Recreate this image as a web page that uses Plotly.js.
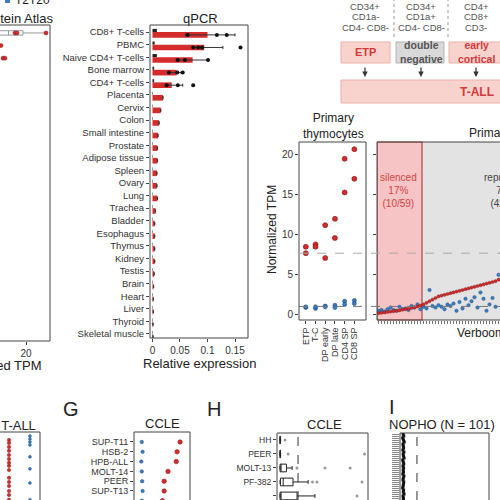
<!DOCTYPE html>
<html><head><meta charset="utf-8">
<script src="https://cdn.plot.ly/plotly-3.0.1.min.js"></script>
<style>html,body{margin:0;padding:0;background:#fff}#chart{width:500px;height:500px}</style>
</head><body><div id="chart"></div>
<script>
// ---------------- data ----------------
const tissues = ['CD8+ T-cells','PBMC','Naive CD4+ T-cells','Bone marrow','CD4+ T-cells','Placenta','Cervix','Colon','Small intestine','Prostate','Adipose tissue','Spleen','Ovary','Lung','Trachea','Bladder','Esophagus','Thymus','Kidney','Testis','Brain','Heart','Liver','Thyroid','Skeletal muscle'];
const qpcrRed = [0.100,0.094,0.073,0.044,0.035,0.019,0.015,0.012,0.010,0.009,0.009,0.008,0.008,0.009,0.0055,0.004,0.004,0.004,0.004,0.003,0.002,0.0015,0.0015,0.001,0.001];
const qpcrDark = [0.008,0.004,0.008,0.003,0.003,0.0008,0.0008,0.0008,0.0008,0.0008,0.0008,0.0008,0.0008,0.0008,0.0008,0.0008,0.0008,0.0008,0.0008,0.0008,0.0008,0.0008,0.0008,0.0008,0.0008];
const qpcrErrPlus = [0.050,0.034,0.028,0.008,0.020,0,0,0,0,0,0,0,0,0,0,0,0,0,0,0,0,0,0,0,0];
const qpcrErrMinus = [0.040,0.020,0.030,0.015,0.012,0,0,0,0,0,0,0,0,0,0,0,0,0,0,0,0,0,0,0,0];
const qpcrPtIdx = [0,0,0,1,1,1,1,2,2,2,3,3,3,4,4,4];
const qpcrPtVal = [0.064,0.117,0.135,0.074,0.083,0.090,0.160,0.046,0.059,0.101,0.030,0.045,0.055,0.026,0.046,0.074];

const paRows = [0,0,0,1,2,2];
const paVals = [15.6,16.4,28.0,10.0,10.8,11.6];
const paBoxQ1 = [9.0], paBoxMed = [13.0], paBoxQ3 = [18.8], paBoxLo = [5.0], paBoxHi = [27.6];

const thyCats = ['ETP','T-C','DP early','DP late','CD4 SP','CD8 SP'];
const thyRedA = [8.4,8.7,11.1,11.9,19.4,20.6];
const thyRedB = [7.6,8.4,7.0,9.5,15.2,16.9];
const thyBlueA = [0.8,0.7,1.0,1.1,1.6,1.7];
const thyBlueB = [0.9,0.9,0.9,0.8,1.2,1.3];

const verboomRed = [0.10,0.15,0.20,0.25,0.30,0.35,0.40,0.45,0.55,0.60,0.65,0.75,0.85,0.95,1.05,
  1.2,1.4,1.6,1.8,2.0,2.2,2.3,2.4,2.5,2.6,2.7,2.8,2.9,3.0,3.1,3.2,3.3,3.4,3.5,3.6,3.7,3.8,3.9,4.0,4.1,4.3];
const verboomBlue = [0.4,0.5,0.3,0.6,0.8,0.5,0.4,0.9,0.6,0.7,0.5,1.0,0.8,1.2,0.6,
  0.9,0.7,3.0,1.0,0.8,1.1,0.9,0.6,1.2,1.0,1.3,0.4,1.5,0.7,1.9,1.1,1.6,2.1,0.8,2.7,1.9,0.4,1.2,2.0,0.9,4.9];
const thresholdHigh = 7.6, thresholdLow = 0.95;

const fRed = [27.3,26.3,25.0,23.7,22.3,21.0,19.7,18.7,17.3,14.7,13.3,12.0,10.3,9.0,7.4];
const fBlue = [28.7,27.7,26.7,25.7,21.7,17.7,13.0,7.4];

const gLines = ['SUP-T11','HSB-2','HPB-ALL','MOLT-14','PEER','SUP-T13','MOLT-13'];
const gRed = [4.85,4.5,4.4,3.45,3.0,3.0,2.8];
const gBlue = [0.4,0.5,0.35,0.4,0.45,0.5,0.4];

const hLines = ['HH','PEER','MOLT-13','PF-382','MOLT-3'];
const hHH = [0,0,0,0,0,0,0,0,0.01,0.01,0.02,0.03,0.28];
const hPEER = [0,0,0,0,0,0,0,0,0.01,0.02,0.03,0.45,4.7];
const hMOLT13 = [0,0,0,0,0,0,0,0,0.01,0.02,0.03,0.04,0.67,0.94,2.5,3.9];
const hPF382 = [0,0,0,0,0.02,0.05,0.08,0.1,0.15,0.2,0.28,0.3,0.5,0.72,1.56,1.8,2.05,4.56];
const hMOLT3 = [0,0,0,0,0,0,0,0.01,0.02,0.03,0.04,0.39,1.5,1.67,1.94,4.28];

const nophoVals = [0.08,0.12,0.05,0.10,0.15,0.07,0.09,0.11,0.06,0.13,
 0.08,0.10,0.14,0.05,0.09,0.12,0.07,0.11,0.08,0.10,
 0.06,0.13,0.09,0.07,0.12,0.10,0.08,0.05,0.11,0.09,
 0.14,0.07,0.10,0.08,0.12,0.06,0.09,0.11,0.13,0.08,
 0.10,0.07,0.12,0.09,0.05,0.11,0.08,0.14,0.10,0.06,
 0.09,0.12,0.07,0.10,0.13,0.08,0.11,0.09,0.06,0.12,
 0.10,0.08,0.14,0.07,0.09,0.11,0.05,0.10,0.12,0.08,
 0.13,0.09,0.07,0.11,0.10,0.06,0.12,0.08,0.09,0.14,
 0.07,0.10,0.11,0.08,0.12,0.05,0.09,0.13,0.10,0.07,
 0.11,0.08,0.12,0.09,0.06,0.10,0.14,0.08,0.11,0.09,0.07];

const stageMarkers = [['CD34+','CD1a-','CD4- CD8-'],['CD34+','CD1a+','CD4- CD8-'],['CD4+','CD8+','CD3-']];
const stageNames = ['ETP','double<br>negative','early<br>cortical'];

// ---------------- helpers ----------------
const FONT = 'Liberation Sans, Arial, sans-serif';
const X = p => p/500, Y = p => 1 - p/500;
const RED = '#d42b2b', REDL = '#7a1616', BLUE = '#3a7dbf', BLUEL = '#1d4d80';
const idx = a => a.map((_, i) => i);

const traces = [];
// Protein Atlas (cut panel)
traces.push({type:'box', orientation:'h', y:[0], q1:paBoxQ1, median:paBoxMed, q3:paBoxQ3, lowerfence:paBoxLo, upperfence:paBoxHi,
  xaxis:'x', yaxis:'y', width:0.35, fillcolor:'#fff', line:{color:'#999', width:1}, boxpoints:false, hoverinfo:'skip'});
traces.push({type:'scatter', mode:'markers', x:paVals, y:paRows, xaxis:'x', yaxis:'y',
  marker:{color:RED, size:4, line:{color:REDL, width:0.5}}});
// qPCR
traces.push({type:'bar', orientation:'h', x:qpcrDark, y:idx(tissues), xaxis:'x2', yaxis:'y2',
  width:0.25, offset:-0.25, marker:{color:'#222'}});
traces.push({type:'bar', orientation:'h', x:qpcrRed, y:idx(tissues), xaxis:'x2', yaxis:'y2',
  width:0.45, offset:0, marker:{color:RED},
  error_x:{type:'data', array:qpcrErrPlus, arrayminus:qpcrErrMinus, visible:true, color:'#333', thickness:1, width:1.5}});
traces.push({type:'scatter', mode:'markers', x:qpcrPtVal, y:qpcrPtIdx.map(i => i + 0.225), xaxis:'x2', yaxis:'y2',
  marker:{color:'#111', size:4}});
// Primary thymocytes
[[thyRedA,RED,REDL,5],[thyRedB,RED,REDL,5],[thyBlueA,BLUE,BLUEL,4],[thyBlueB,BLUE,BLUEL,4]].forEach(([v,c,l,s]) => {
  traces.push({type:'scatter', mode:'markers', x:thyCats, y:v, xaxis:'x3', yaxis:'y3',
    marker:{color:c, size:s, line:{color:l, width:0.6}}});
});
// Verboom
traces.push({type:'scatter', mode:'markers', x:idx(verboomBlue).map(i=>i+1), y:verboomBlue, xaxis:'x4', yaxis:'y4',
  marker:{color:BLUE, size:3.5, line:{color:BLUEL, width:0.4}}});
traces.push({type:'scatter', mode:'markers', x:idx(verboomRed).map(i=>i+1), y:verboomRed, xaxis:'x4', yaxis:'y4',
  marker:{color:RED, size:3.2, line:{color:REDL, width:0.4}}});
// F: primary T-ALL (cut)
traces.push({type:'scatter', mode:'markers', x:fRed.map(()=>0), y:fRed, xaxis:'x5', yaxis:'y5',
  marker:{color:RED, size:3.5, line:{color:REDL, width:0.4}}});
traces.push({type:'scatter', mode:'markers', x:fBlue.map(()=>1), y:fBlue, xaxis:'x5', yaxis:'y5',
  marker:{color:BLUE, size:3, line:{color:BLUEL, width:0.4}}});
// G: CCLE
traces.push({type:'scatter', mode:'markers', x:gBlue, y:idx(gLines), xaxis:'x6', yaxis:'y6',
  marker:{color:BLUE, size:3.5, line:{color:BLUEL, width:0.5}}});
traces.push({type:'scatter', mode:'markers', x:gRed, y:idx(gLines), xaxis:'x6', yaxis:'y6',
  marker:{color:RED, size:4.5, line:{color:REDL, width:0.5}}});
// H: CCLE boxes
[hHH,hPEER,hMOLT13,hPF382,hMOLT3].forEach((vals, i) => {
  traces.push({type:'box', orientation:'h', x:vals, y:vals.map(()=>i), xaxis:'x7', yaxis:'y7',
    width:0.55, boxpoints:'outliers', fillcolor:'rgba(0,0,0,0)', line:{color:'#222', width:1},
    marker:{color:'#999', size:3}});
});
// I: NOPHO
traces.push({type:'scatter', mode:'markers', x:nophoVals, y:idx(nophoVals), xaxis:'x8', yaxis:'y8',
  marker:{color:'#111', size:3, symbol:'square'}});

// ---------------- layout ----------------
const base = {showgrid:false, zeroline:false, showline:false, tickfont:{size:10, color:'#333'}, tickcolor:'#444', ticklen:3};
const dom = {
  pa:[[0,X(50)],[Y(341),Y(25)]],
  q:[[X(150),X(248)],[Y(338),Y(25)]],
  thy:[[X(299),X(366)],[Y(320),Y(142)]],
  vb:[[X(377),1],[Y(320),Y(142)]],
  f:[[0,X(40)],[0,Y(432)]],
  g:[[X(134),X(190)],[0,Y(432)]],
  h:[[X(277),X(368)],[0,Y(433)]],
  i:[[X(400),X(489)],[0,Y(433)]]
};
const layout = {
  width:500, height:500, margin:{l:0,r:0,t:0,b:0}, showlegend:false,
  paper_bgcolor:'#fff', plot_bgcolor:'rgba(0,0,0,0)', font:{family:FONT, size:10, color:'#333'},
  xaxis:{...base, domain:dom.pa[0], anchor:'y', range:[9.6,29.6], tickvals:[20], ticks:'outside'},
  yaxis:{...base, domain:dom.pa[1], anchor:'x', range:[24.45,-0.63], showticklabels:false},
  xaxis2:{...base, domain:dom.q[0], anchor:'y2', range:[-0.0045,0.1736], tickvals:[0,0.05,0.1,0.15], ticktext:['0','0.05','0.1','0.15'], ticks:'outside'},
  yaxis2:{...base, domain:dom.q[1], anchor:'x2', range:[24.32,-0.56], tickvals:idx(tissues), ticktext:tissues, ticks:'outside', tickfont:{size:9.5, color:'#333'}},
  xaxis3:{...base, domain:dom.thy[0], anchor:'y3', type:'category', categoryarray:thyCats, range:[-0.7,6.2], tickmode:'array', tickvals:thyCats, ticktext:thyCats, ticks:'outside', tickangle:-90, tickfont:{size:9, color:'#333'}},
  yaxis3:{...base, domain:dom.thy[1], anchor:'x3', range:[-0.75,21.5], tickvals:[0,5,10,15,20], ticks:'outside'},
  xaxis4:{...base, domain:dom.vb[0], anchor:'y4', range:[0.5,41.5], tick0:1, dtick:1, ticks:'outside', showticklabels:false, tickcolor:'#777'},
  yaxis4:{...base, domain:dom.vb[1], anchor:'x4', range:[-0.75,21.5], tickvals:[0,5,10,15,20], ticks:'outside', showticklabels:false},
  xaxis5:{...base, domain:dom.f[0], anchor:'y5', range:[-0.43,1.48], showticklabels:false},
  yaxis5:{...base, domain:dom.f[1], anchor:'x5', range:[7.3,30], showticklabels:false},
  xaxis6:{...base, domain:dom.g[0], anchor:'y6', range:[-0.5,6], showticklabels:false},
  yaxis6:{...base, domain:dom.g[1], anchor:'x6', range:[5.92,-1.02], tickvals:idx(gLines), ticktext:gLines, ticks:'outside', tickfont:{size:9, color:'#333'}},
  xaxis7:{...base, domain:dom.h[0], anchor:'y7', range:[-0.17,4.89], showticklabels:false},
  yaxis7:{...base, domain:dom.h[1], anchor:'x7', range:[4.29,-0.5], tickvals:idx(hLines), ticktext:hLines, ticks:'outside', tickfont:{size:8.5, color:'#333'}},
  xaxis8:{...base, domain:dom.i[0], anchor:'y8', range:[-0.13,5.8], showticklabels:false},
  yaxis8:{...base, domain:dom.i[1], anchor:'x8', range:[33,-0.5], tickvals:idx(nophoVals), ticks:'outside', ticklen:7, tickcolor:'#888', showticklabels:false},
  shapes:[], annotations:[]
};
const S = layout.shapes, A = layout.annotations;
const frame = (xd, yd, ext) => S.push({type:'rect', xref:'paper', yref:'paper',
  x0: ext.l ? -0.05 : xd[0], x1: ext.r ? 1.05 : xd[1], y0: ext.b ? -0.05 : yd[0], y1: yd[1],
  line:{color:'#444', width:1}, fillcolor:'rgba(0,0,0,0)'});
// Verboom backgrounds
S.push({type:'rect', xref:'x4', yref:'paper', x0:15.5, x1:80, y0:dom.vb[1][0], y1:dom.vb[1][1], fillcolor:'#e3e3e3', line:{width:0}, layer:'below'});
S.push({type:'rect', xref:'x4', yref:'paper', x0:0.5, x1:15.5, y0:dom.vb[1][0], y1:dom.vb[1][1], fillcolor:'#f6c4c4', line:{color:'#b54545', width:1.2}, layer:'below'});
frame(dom.pa[0], dom.pa[1], {l:1});
frame(dom.q[0], dom.q[1], {});
frame(dom.thy[0], dom.thy[1], {});
frame(dom.vb[0], dom.vb[1], {r:1});
frame(dom.f[0], dom.f[1], {l:1, b:1});
frame(dom.g[0], dom.g[1], {b:1});
frame(dom.h[0], dom.h[1], {b:1});
frame(dom.i[0], dom.i[1], {b:1});
// threshold lines
S.push({type:'line', xref:'paper', yref:'y3', x0:dom.thy[0][0], x1:1, y0:thresholdHigh, y1:thresholdHigh, line:{color:'#aaa', width:1, dash:'dash'}});
S.push({type:'line', xref:'paper', yref:'y3', x0:dom.thy[0][0], x1:1, y0:thresholdLow, y1:thresholdLow, line:{color:'#777', width:1, dash:'dash'}});
S.push({type:'line', xref:'x7', yref:'paper', x0:1, x1:1, y0:0, y1:dom.h[1][1], line:{color:'#333', width:1, dash:'dash'}});
S.push({type:'line', xref:'x8', yref:'paper', x0:1, x1:1, y0:0, y1:dom.i[1][1], line:{color:'#333', width:1, dash:'dash'}});

// diagram (top right)
const colX = [365, 421, 476];
[394, 448].forEach(x => S.push({type:'line', xref:'paper', yref:'paper', x0:X(x), x1:X(x), y0:Y(-2), y1:Y(40), line:{color:'#999', width:1, dash:'dot'}}));
const boxes = [[341,390,'#f8d3ce','#eab1aa'],[396,444,'#d9d9d9','#b5b5b5'],[449,510,'#f8d3ce','#eab1aa']];
boxes.forEach(b => S.push({type:'rect', xref:'paper', yref:'paper', x0:X(b[0]), x1:X(b[1]), y0:Y(63), y1:Y(42), fillcolor:b[2], line:{color:b[3], width:1}}));
S.push({type:'rect', xref:'paper', yref:'paper', x0:X(341), x1:X(510), y0:Y(103), y1:Y(80), fillcolor:'#f8d3ce', line:{color:'#eab1aa', width:1}});
const ann = (text, x, y, o={}) => A.push(Object.assign({text, x:X(x), y:Y(y), xref:'paper', yref:'paper', showarrow:false,
  font:{family:FONT, size:o.size||13, color:o.color||'#222'}, xanchor:o.xa||'center', yanchor:'middle', align:o.align||'center'}, o.extra||{}));
stageMarkers.forEach((lines, i) => lines.forEach((t, j) => ann(t, colX[i], 6 + j*10.5, {size:9.5, color:'#555'})));
stageNames.forEach((t, i) => ann('<b>'+t+'</b>', colX[i], 52.5, {size: i===0 ? 11 : 10.5, color: i===1 ? '#555' : '#d03a3a'}));
colX.forEach(x => A.push({text:'', x:X(x), y:Y(77), xref:'paper', yref:'paper', ax:0, ay:-11, showarrow:true, arrowhead:2, arrowsize:0.9, arrowwidth:1.2, arrowcolor:'#333'}));
ann('<b>T-ALL</b>', 477, 92, {size:12, color:'#d03a3a'});

// titles & labels
S.push({type:'rect', xref:'paper', yref:'paper', x0:X(5), x1:X(10), y0:Y(3), y1:Y(-3), fillcolor:BLUE, line:{width:0}});
ann('T2T20', 13, 0, {size:12, xa:'left'});
ann('Protein Atlas', 55, 18, {size:13, xa:'right'});
ann('qPCR', 200, 18, {size:13});
ann('Normalized TPM', 44, 365, {size:13, xa:'right'});
ann('Relative expression', 199, 363, {size:13});
ann('Primary<br>thymocytes', 333, 126, {size:12});
ann('Primary T-ALL', 467, 133, {size:12, xa:'left'});
ann('Normalized TPM', 272, 230, {size:12, extra:{textangle:-90}});
ann('Verboom et al.', 455, 333, {size:12, xa:'left'});
ann('silenced<br>17%<br>(10/59)', 398, 190, {size:10, color:'#d04444'});
ann('repressed<br>71%<br>(42/59)', 506, 190, {size:10, color:'#444'});
ann('Primary T-ALL', 38, 425, {size:13, xa:'right'});
ann('CCLE', 162, 423, {size:13});
ann('CCLE', 324, 424, {size:13});
ann('NOPHO (N = 101)', 442, 424, {size:13});
ann('G', 71, 409, {size:20});
ann('H', 214, 409, {size:20});
ann('I', 392, 407, {size:20});

Plotly.newPlot('chart', traces, layout, {staticPlot:true, displayModeBar:false});
</script></body></html>
